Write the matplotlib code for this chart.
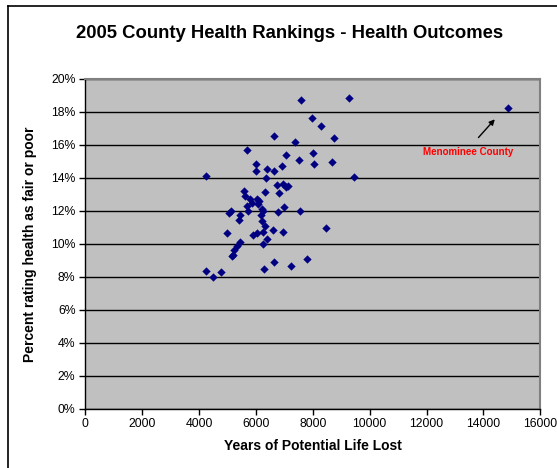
import matplotlib
matplotlib.use("Agg")
import matplotlib.pyplot as plt
from matplotlib.lines import Line2D
from matplotlib.ticker import FuncFormatter

plt.rcParams['font.family'] = ['Liberation Sans', 'DejaVu Sans']

# Years of Potential Life Lost (x) vs. percent rating health as fair or poor (y)
ypll = [7595, 9272, 7961, 8298, 6646, 8745, 7384, 5675, 7068, 8017,
        7504, 8041, 8685, 6002, 6002, 6399, 6646, 6923, 4237, 9455,
        6371, 5587, 6308, 6733, 6962, 7057, 7120, 6828, 5608, 5791,
        6027, 6118, 5861, 6079, 5675, 5728, 6203, 6259, 6196, 7004,
        6765, 7560, 5123, 5060, 5457, 5394, 6224, 6336, 4993, 6589,
        6944, 8453, 5907, 6037, 6255, 6399, 6248, 5457, 5341, 5229,
        5204, 5165, 6624, 7806, 7233, 6283, 4233, 4789, 4483, 14863]
pct_fair_poor = [18.74, 18.86, 17.62, 17.16, 16.53, 16.44, 16.15, 15.68, 15.36, 15.48,
                 15.10, 14.85, 14.96, 14.85, 14.42, 14.53, 14.42, 14.70, 14.11, 14.06,
                 14.00, 13.21, 13.16, 13.55, 13.61, 13.42, 13.48, 13.10, 12.87, 12.70,
                 12.74, 12.59, 12.48, 12.39, 12.28, 11.96, 12.12, 11.96, 11.76, 12.23,
                 11.92, 11.96, 11.97, 11.89, 11.73, 11.42, 11.36, 11.07, 10.65, 10.81,
                 10.71, 10.96, 10.53, 10.64, 10.70, 10.27, 10.01, 10.11, 9.86, 9.63,
                 9.33, 9.24, 8.90, 9.07, 8.68, 8.44, 8.33, 8.28, 8.00, 18.21]

x_ticks = list(range(0, 16001, 2000))
y_ticks = list(range(0, 21, 2))

fig = plt.figure(figsize=(5.57, 4.68), dpi=100)
ax = fig.add_axes([0.1531, 0.1271, 0.8169, 0.7041])
ax.set_facecolor('#C0C0C0')

ax.scatter(ypll, pct_fair_poor, marker='D', s=18, color='#000080', zorder=3, linewidths=0)

ax.set_xlim(0, 16000)
ax.set_ylim(0, 20)
ax.set_xticks(x_ticks)
ax.set_yticks(y_ticks)
ax.yaxis.set_major_formatter(FuncFormatter(lambda v, p: f'{v:.0f}%'))
ax.grid(axis='y', color='black', linewidth=1.0)
ax.set_axisbelow(True)
ax.tick_params(axis='both', direction='out', length=4, width=1, labelsize=8.8, pad=3)

for side in ['top', 'right']:
    ax.spines[side].set_color('#808080')
    ax.spines[side].set_linewidth(1.5)
for side in ['left', 'bottom']:
    ax.spines[side].set_color('black')
    ax.spines[side].set_linewidth(1.0)

ax.set_xlabel('Years of Potential Life Lost', fontsize=10, fontweight='bold', labelpad=6)
ax.set_ylabel('Percent rating health as fair or poor', fontsize=10, fontweight='bold', labelpad=10)

fig.text(0.52, 1 - 33 / 468, '2005 County Health Rankings - Health Outcomes',
         ha='center', va='center', fontsize=13.3, fontweight='bold')

# callout for the outlier
ax.annotate('', xy=(14466, 17.68), xytext=(13760, 16.32),
            arrowprops=dict(arrowstyle='-|>', color='black', lw=1, mutation_scale=8))
ax.text(13456, 15.56, 'Menominee County', color='red', fontsize=7, fontweight='bold',
        ha='center', va='center')

# chart frame (left and top edges visible in the crop)
fx = 8 / 557
fy = 1 - 6.4 / 468
fig.add_artist(Line2D([fx, fx], [0, fy], color='black', linewidth=1.2))
fig.add_artist(Line2D([fx, 1], [fy, fy], color='black', linewidth=1.2))

plt.savefig('out.png', dpi=100)
